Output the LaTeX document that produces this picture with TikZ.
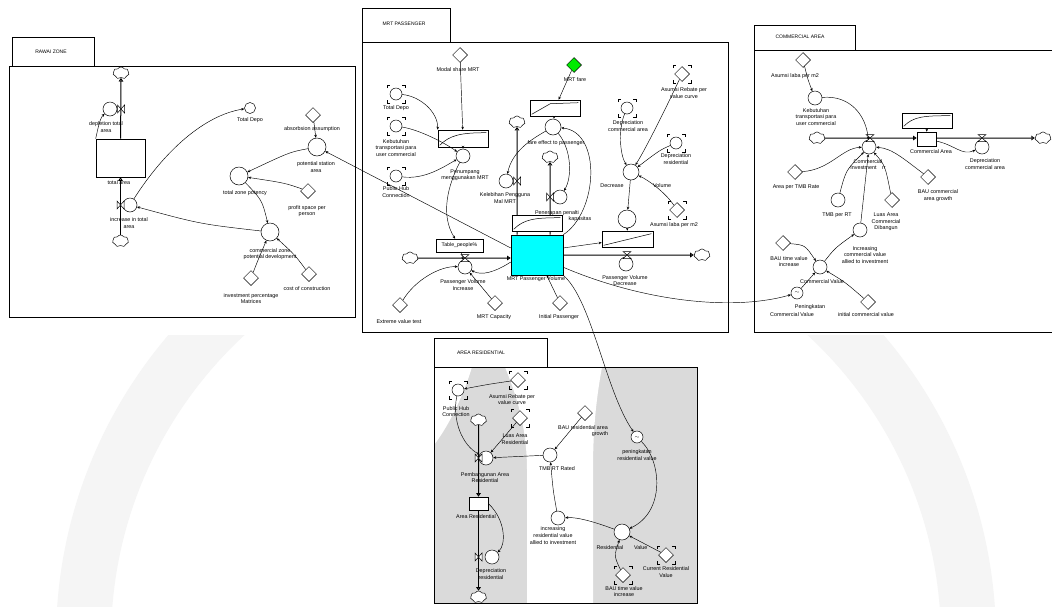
\documentclass[tikz,border=0pt]{standalone}
\usepackage{fontspec}
\setmainfont{Liberation Sans}
\usetikzlibrary{shapes.geometric,shapes.symbols,arrows.meta,calc}

% flow valves on horizontal and vertical pipes
\newcommand\valveH[2]{\draw[line width=0.5pt,fill=white] (#1-4,#2-3.5) -- (#1+4,#2+3.5) -- (#1-4,#2+3.5) -- (#1+4,#2-3.5) -- cycle;}
\newcommand\valveV[2]{\draw[line width=0.5pt,fill=white] (#1-3.5,#2-4) -- (#1+3.5,#2+4) -- (#1+3.5,#2-4) -- (#1-3.5,#2+4) -- cycle;}
% corner brackets of a ghost (alias) variable
\newcommand\ghostmark[1]{\draw[shift={(#1)},line width=0.5pt] (-9,-6)--(-9,-9)--(-6,-9) (6,-9)--(9,-9)--(9,-6) (9,6)--(9,9)--(6,9) (-6,9)--(-9,9)--(-9,6);}
% saturating curve inside a graphical-function box
\newcommand\gcurve[1]{\draw[line width=0.5pt] ($(#1.south west)+(2,-2)$) .. controls ($(#1.south west)+(12,-12)$) and ($(#1.north east)+(-28,3)$) .. ($(#1.north east)+(-2,3)$);}

\definecolor{stockcyan}{RGB}{0,255,255}
\definecolor{faregreen}{RGB}{0,235,0}
\definecolor{wmark}{RGB}{245,245,245}
\definecolor{wmarkin}{RGB}{218,218,218}

\begin{document}
\begin{tikzpicture}[x=1pt,y=-1pt,
  aux/.style={draw,circle,minimum size=14pt,inner sep=0pt,fill=white,line width=0.5pt},
  cst/.style={draw,diamond,minimum width=15pt,minimum height=15pt,inner sep=0pt,fill=white,line width=0.5pt},
  stockbox/.style={draw,rectangle,inner sep=0pt,fill=white,line width=0.6pt},
  gbox/.style={draw,rectangle,inner sep=0pt,fill=white,line width=0.6pt},
  cloudy/.style={draw,cloud,cloud puffs=7,cloud puff arc=120,aspect=1.3,minimum width=16pt,minimum height=12pt,inner sep=0pt,fill=white,line width=0.5pt},
  lbl/.style={font=\fontsize{5.4}{6.6}\selectfont,align=center,inner sep=0pt},
  tabtxt/.style={font=\fontsize{5}{6}\selectfont,inner sep=0pt},
  link/.style={line width=0.45pt,-{Stealth[length=3pt,width=2.6pt]}},
  pipe/.style={line width=1pt,-{Triangle[open,length=3.6pt,width=4.6pt]}},
  panel/.style={line width=0.8pt}]
\useasboundingbox (0,0) rectangle (1052,606);
\fill[white] (0,0) rectangle (1052,606);

% ---------------- faint background emblem
\begin{scope}
\clip (0,335) rectangle (1052,606);
\fill[wmark,even odd rule] (526,640) circle[radius=470] (526,640) circle[radius=415];
\end{scope}
\begin{scope}
\clip (434,367) rectangle (697,603);
\fill[wmarkin] (434,367) rectangle (697,603);
\fill[white] (434,367) -- (472,367) .. controls (462,400) and (447,428) .. (434,445) -- cycle;
\fill[white] (527,606) -- (527,470) .. controls (527,425) and (515,392) .. (505,367) -- (602,367) .. controls (596,400) and (593,430) .. (593,470) -- (593,606) -- cycle;
\end{scope}

% ---------------- panels and their tabs
\draw[panel] (9,66) rectangle (355,317);
\draw[panel] (12,37) rectangle (94,66);
\node[tabtxt] (tz) at (51,52) {RAWAI ZONE};
\draw[panel] (362,42) rectangle (728,332);
\draw[panel] (362,8) rectangle (450,42);
\node[tabtxt] (tm) at (404,24) {MRT PASSENGER};
\draw[panel] (754,50) rectangle (1060,332);
\draw[panel] (754,25) rectangle (855,50);
\node[tabtxt] (tc) at (800,37) {COMMERCIAL AREA};
\draw[panel] (434,367) rectangle (697,603);
\draw[panel,fill=white] (434,338) rectangle (547,367);
\node[tabtxt] (tr) at (481,353) {AREA RESIDENTIAL};

% ---------------- zone panel
\node[cloudy] (za) at (121,73) {};
\node[aux] (zb) at (110,109) {};
\node[stockbox,minimum width=49pt,minimum height=38pt] (zt) at (120.5,158) {};
\node[aux] (zin) at (130,205) {};
\node[cloudy] (zc) at (120.5,241) {};
\node[draw,circle,minimum size=11pt,inner sep=0pt,fill=white,line width=0.5pt] (ztd) at (250,108) {};
\node[cst] (zabs) at (313,115) {};
\node[aux,minimum size=18pt] (zpot) at (317,147) {};
\node[aux,minimum size=18pt] (ztzp) at (239,176) {};
\node[cst] (zpsp) at (308,191) {};
\node[aux,minimum size=18pt] (zczp) at (270,232) {};
\node[cst] (zinv) at (251,278) {};
\node[cst] (zcost) at (309,274) {};

\draw[pipe] (zt) -- (za);
\draw[pipe] (zc) -- (zt);
\valveV{121}{109}
\valveV{120.5}{205}

\draw[link] (zt.north west) .. controls (98,128) and (100,118) .. (zb);
\draw[link] (zczp) .. controls (200,224) .. (zin);
\draw[link] (zin) .. controls (165,150) and (205,115) .. (ztd);
\draw[link] (zabs) -- (zpot);
\draw[link] (zpot) .. controls (290,152) .. (ztzp);
\draw[link] (zpsp) .. controls (285,183) .. (ztzp);
\draw[link] (ztzp) .. controls (262,200) .. (zczp);
\draw[link] (zinv) .. controls (258,260) .. (zczp);
\draw[link] (zcost) .. controls (295,255) .. (zczp);

\node[lbl] (lz1) at (106,127) {depletion total\\area};
\node[lbl] (lz2) at (119,183) {total area};
\node[lbl] (lz3) at (129,223) {increase in total\\area};
\node[lbl] (lz4) at (250,120) {Total Depo};
\node[lbl] (lz5) at (312,129) {absorbsion assumption};
\node[lbl] (lz6) at (316,167) {potential station\\area};
\node[lbl] (lz7) at (245,193) {total zone potency};
\node[lbl] (lz8) at (307,211) {profit space per\\person};
\node[lbl] (lz9) at (270,254) {commercial zone\\potential development};
\node[lbl] (lz10) at (251,298.5) {investment percentage\\Matrices};
\node[lbl] (lz11) at (307,289) {cost of construction};

% ---------------- MRT passenger panel
\node[cst] (mms) at (460,55) {};
\node[gbox,minimum width=50pt,minimum height=17pt] (mg1) at (463,138.5) {};
\node[aux,minimum size=12pt] (mtd) at (396,94) {};
\node[aux,minimum size=12pt] (mkeb) at (396,126) {};
\node[aux,minimum size=12pt] (mphc) at (396,176) {};
\node[aux] (mpen) at (463,156) {};
\node[cloudy] (mcl1) at (410,258) {};
\node[aux] (minc) at (465,267) {};
\node[cst] (mext) at (400,305) {};
\node[cst] (mcap) at (495,303) {};
\node[cst] (minit) at (560,303) {};
\node[cst,fill=faregreen] (mfare) at (574,65) {};
\node[gbox,minimum width=50pt,minimum height=16pt] (mg2) at (555,108) {};
\node[aux,minimum size=16pt] (mfe) at (553,127) {};
\node[cloudy] (mcl2) at (517,122) {};
\node[aux] (mkel) at (506,181) {};
\node[cloudy] (mcl3) at (550,157) {};
\node[aux] (mpen2) at (560,197) {};
\node[aux,minimum size=12pt] (mdca) at (627,108) {};
\node[aux,minimum size=12pt] (mdres) at (676,143) {};
\node[cst] (mrebate) at (682,74) {};
\node[aux,minimum size=16pt] (mdec) at (631,172) {};
\node[cst] (mlaba) at (677,210) {};
\node[aux,minimum size=18pt] (mmid) at (627,219) {};
\node[cloudy] (mcl4) at (702,255) {};
\node[aux] (mout) at (626,264) {};
\node[stockbox,fill=stockcyan,minimum width=52pt,minimum height=40pt] (mstock) at (537,255) {};

\draw[pipe] (mcl1) -- (mcl1 -| mstock.west);
\draw[pipe] (mstock.east |- mcl4) -- (mcl4);
\draw[pipe] (mcl2 |- mstock.north) -- (mcl2);
\draw[pipe] (mcl3 |- mstock.north) -- (mcl3);
\valveH{465}{258}
\valveH{627}{255}
\valveV{517}{181}
\valveV{550}{197}

\node[gbox,minimum width=50pt,minimum height=16pt] (mg3) at (537,223) {};
\node[gbox,minimum width=51pt,minimum height=16pt] (mg4) at (627.5,239) {};
\node[gbox,minimum width=47pt,minimum height=13pt,font=\fontsize{5.2}{6}\selectfont] (mtab) at (459.5,245.5) {Table\_people\%};
\gcurve{mg1}
\gcurve{mg3}
\draw[line width=0.5pt] ($(mg2.south west)+(2,-2)$) -- ($(mg2.north east)+(-30,4)$) -- ($(mg2.north east)+(-2,3)$);
\draw[line width=0.5pt] ($(mg4.south west)+(2,-2)$) -- ($(mg4.north east)+(-2,3)$);
\ghostmark{mtd}
\ghostmark{mkeb}
\ghostmark{mphc}
\ghostmark{mdca}
\ghostmark{mdres}
\ghostmark{mrebate}
\ghostmark{mlaba}

\draw[link] (mms) -- (mg1);
\draw[link] (mtd) .. controls (420,96) and (438,112) .. (mg1.north west);
\draw[link] (mkeb) .. controls (420,130) and (445,143) .. (mpen);
\draw[link] (mphc) .. controls (425,180) and (445,166) .. (mpen);
\draw[link] (mg1) -- (mpen);
\draw[link] (mpen) .. controls (448,185) and (440,215) .. (mtab);
\draw[link] (mtab) -- (minc);
\draw[link] (mext) .. controls (415,280) and (440,266) .. (minc);
\draw[link] (mcap) -- (minc);
\draw[link] (mstock.-165) .. controls (495,272) and (482,276) .. (minc);
\draw[link] (minit) -- (mstock);
\draw[link] (mstock.165) -- (zpot);
\draw[link] (mfare) -- (mg2);
\draw[link] (mg2) -- (mfe);
\draw[link] (mfe) .. controls (530,140) and (512,152) .. (mkel);
\draw[link] (mfe) .. controls (572,150) and (572,178) .. (mpen2);
\draw[link] (mstock.north east) .. controls (598,212) and (602,132) .. (mfe);
\draw[link] (mdca) .. controls (618,130) and (620,155) .. (mdec);
\draw[link] (mrebate) .. controls (665,110) and (645,150) .. (mdec);
\draw[link] (mdres) .. controls (660,150) .. (mdec);
\draw[link] (mlaba) .. controls (665,192) and (648,180) .. (mdec);
\draw[link] (mdec) -- (mmid);
\draw[link] (mmid) -- (mg4);
\draw[link] (mstock.15) -- (mg4);

\node[lbl] (lm1) at (458,70) {Modal share MRT};
\node[lbl] (lm2) at (396,108) {Total Depo};
\node[lbl] (lm3) at (396,148) {Kebutuhan\\transportasi para\\user commercial};
\node[lbl] (lm4) at (396,192) {Public Hub\\Connection};
\node[lbl] (lm5) at (465,175) {Penumpang\\menggunakan MRT};
\node[lbl] (lm6) at (505,198) {Kelebihan Pengguna\\Mal MRT};
\node[lbl] (lm7) at (575,80) {MRT fare};
\node[lbl] (lm8) at (556,143) {fare effect to passenger};
\node[lbl] (lm9) at (628,126) {Depreciation\\commercial area};
\node[lbl] (lm10) at (676,159) {Depreciation\\residential};
\node[lbl] (lm11) at (684,93) {Asumsi Rebate per\\value curve};
\node[lbl] (lm12a) at (612,186) {Decrease};
\node[lbl] (lm12b) at (662,186) {Volume};
\node[lbl] (lm13) at (674,225) {Asumsi laba per m2};
\node[lbl] (lm14a) at (557,213) {Penerapan penalti};
\node[lbl] (lm14b) at (580,219) {kapasitas};
\node[lbl] (lm15) at (536,279) {MRT Passenger Volume};
\node[lbl] (lm16) at (463,285) {Passenger Volume\\Increase};
\node[lbl] (lm17) at (625,280.5) {Passenger Volume\\Decrease};
\node[lbl] (lm18) at (399,322) {Extreme value test};
\node[lbl] (lm19) at (494,317) {MRT Capacity};
\node[lbl] (lm20) at (559,317) {Initial Passenger};

% ---------------- commercial area panel
\node[cst] (claba) at (803,60) {};
\node[aux] (ckeb) at (815,98) {};
\node[cloudy] (ccl1) at (817,138) {};
\node[aux] (cinv) at (869,147) {};
\node[cst] (carea) at (795,172) {};
\node[aux] (ctmb) at (838,200) {};
\node[cst] (cluas) at (892,200) {};
\node[cst] (cbau) at (928,177) {};
\node[stockbox,minimum width=19pt,minimum height=14pt] (cstock) at (926.5,139) {};
\node[gbox,minimum width=50pt,minimum height=15pt] (cg) at (927,120.5) {};
\node[aux] (cdep) at (982,147) {};
\node[cloudy] (ccl2) at (1043,138) {};
\node[cst] (cbti) at (783,243) {};
\node[aux] (ccv) at (820,267) {};
\node[aux] (cincv) at (860,230) {};
\node[aux,minimum size=12pt,font=\fontsize{5}{5}\selectfont] (cpen) at (797,293) {$\sim$};
\node[cst] (cinit) at (868,302) {};
\gcurve{cg}

\draw[pipe] (ccl1) -- (ccl1 -| cstock.west);
\draw[pipe] (cstock.east |- ccl2) -- (ccl2);
\valveH{870}{138}
\valveH{982}{138}

\draw[link] (claba) .. controls (808,80) .. (ckeb);
\draw[link] (ckeb) .. controls (850,95) and (866,115) .. (cinv);
\draw[link] (carea) .. controls (830,170) and (842,148) .. (cinv);
\draw[link] (ctmb) .. controls (846,170) .. (cinv);
\draw[link] (cincv) -- (cinv);
\draw[link] (cluas) .. controls (885,165) .. (cinv);
\draw[link] (cbau) .. controls (905,160) and (892,148) .. (cinv);
\draw[link] (cg) -- (cstock);
\draw[link] (cstock) .. controls (955,145) and (962,156) .. (cdep);
\draw[link] (cbti) .. controls (805,245) .. (ccv);
\draw[link] (cpen) -- (ccv);
\draw[link] (cinit) .. controls (845,282) .. (ccv);
\draw[link] (ccv) .. controls (835,248) .. (cincv);
\draw[link] (mstock.-25) .. controls (640,300) and (730,312) .. (cpen);

\node[lbl] (lc1) at (795,76) {Asumsi laba per m2};
\node[lbl] (lc2) at (816,117) {Kebutuhan\\transportasi para\\user commercial};
\node[lbl] (lc3) at (868,164.5) {Commercial\\Investment\quad rr};
\node[lbl] (lc4) at (796,187) {Area per TMB Rate};
\node[lbl] (lc5) at (837,215) {TMB per RT};
\node[lbl] (lc6) at (886,222) {Luas Area\\Commercial\\Dibangun};
\node[lbl] (lc7) at (938,195.5) {BAU commercial\\area growth};
\node[lbl] (lc8) at (931,152) {Commercial Area};
\node[lbl] (lc9) at (985,164) {Depreciation\\commercial area};
\node[lbl] (lc10) at (789,261.5) {BAU time value\\increase};
\node[lbl] (lc11) at (822,282) {Commercial Value};
\node[lbl] (lc12) at (865,255) {Increasing\\commercial value\\allied to investment};
\node[lbl] (lc13a) at (810,307) {Peningkatan};
\node[lbl] (lc13b) at (792,315) {Commercial Value};
\node[lbl] (lc14) at (866,315) {initial commercial value};

% ---------------- residential area panel
\node[aux,minimum size=12pt] (rphc) at (458,390) {};
\node[cst] (rrebate) at (518,380) {};
\node[cloudy] (rcl1) at (478.5,420) {};
\node[cst] (rluas) at (520,418) {};
\node[aux] (rpemb) at (486,458) {};
\node[aux] (rtmb) at (550,455) {};
\node[cst] (rbau) at (585,413) {};
\node[stockbox,minimum width=19pt,minimum height=13pt] (rstock) at (478.5,503.5) {};
\node[aux] (rdep) at (492,557) {};
\node[cloudy] (rcl2) at (478.5,597) {};
\node[aux,minimum size=12pt,font=\fontsize{5}{5}\selectfont] (rpen) at (637,437) {$\sim$};
\node[aux] (rincv) at (558,518) {};
\node[aux,minimum size=16pt] (rrv) at (622,532) {};
\node[cst] (rcur) at (666,555) {};
\node[cst] (rbti) at (623,575) {};
\ghostmark{rphc}
\ghostmark{rrebate}
\ghostmark{rluas}
\ghostmark{rcur}
\ghostmark{rbti}

\draw[pipe] (rcl1) -- (rstock);
\draw[pipe] (rstock) -- (rcl2);
\valveV{478.5}{458}
\valveV{478.5}{557}

\draw[link] (rrebate) .. controls (490,384) .. (rphc);
\draw[link] (rphc) .. controls (452,420) and (462,445) .. (rpemb);
\draw[link] (rluas) .. controls (505,436) .. (rpemb);
\draw[link] (rtmb) -- (rpemb);
\draw[link] (rbau) -- (rtmb);
\draw[link] (rincv) .. controls (553,490) .. (rtmb);
\draw[link] (rstock.east) .. controls (506,520) and (506,545) .. (rdep);
\draw[link] (mstock.south east) .. controls (592,300) and (605,390) .. (rpen);
\draw[link] (rpen) .. controls (662,462) and (665,512) .. (rrv);
\draw[link] (rrv) .. controls (600,524) and (580,517) .. (rincv);
\draw[link] (rcur) -- (rrv);
\draw[link] (rbti) .. controls (614,556) .. (rrv);

\node[lbl] (lr1) at (456,411.5) {Public Hub\\Connection};
\node[lbl] (lr2) at (512,399.5) {Asumsi Rebate per\\value curve};
\node[lbl] (lr3) at (515,439) {Luas Area\\Residential};
\node[lbl] (lr4) at (485,477.5) {Pembangunan Area\\Residential};
\node[lbl] (lr5) at (557,469) {TMB RT Rated};
\node[lbl] (lr6a) at (583,428) {BAU residential area};
\node[lbl] (lr6b) at (600,434) {growth};
\node[lbl] (lr7) at (476,517) {Area Residential};
\node[lbl] (lr8) at (491,574) {Depreciation\\residential};
\node[lbl] (lr9) at (637,455) {peningkatan\\residential value};
\node[lbl] (lr10) at (553,535.5) {increasing\\residential value\\allied to investment};
\node[lbl] (lr11) at (622,548) {Residential\qquad Value};
\node[lbl] (lr12) at (666,572) {Current Residential\\Value};
\node[lbl] (lr13) at (624,591.5) {BAU time value\\increase};
\end{tikzpicture}
\end{document}
